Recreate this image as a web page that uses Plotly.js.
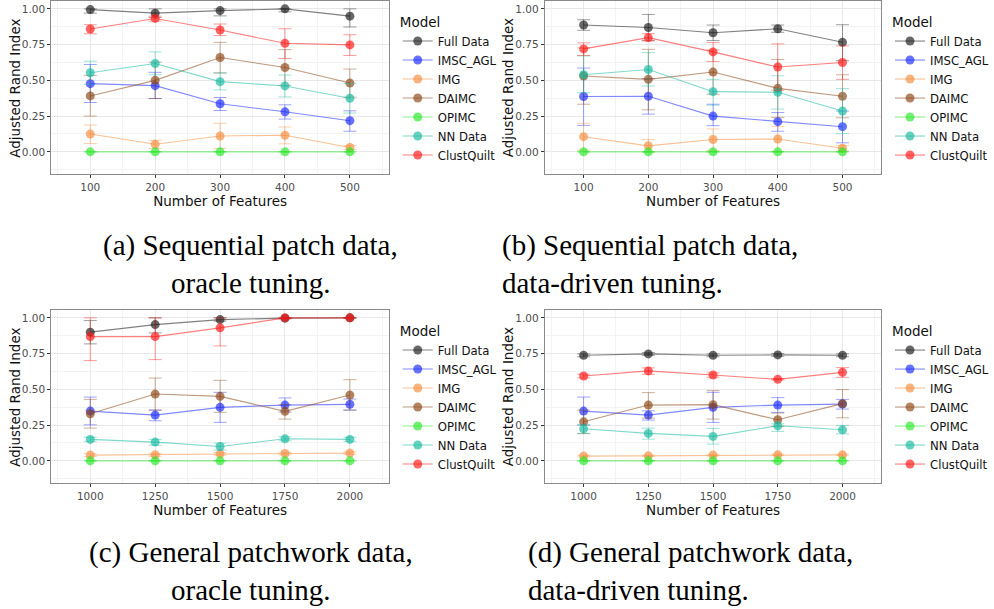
<!DOCTYPE html>
<html><head><meta charset="utf-8">
<script src="https://cdn.plot.ly/plotly-3.0.1.min.js"></script>
<style>html,body{margin:0;padding:0;background:#fff}#chart{width:994px;height:609px}</style>
</head><body><div id="chart"></div>
<script>
// ---------- data ----------
const models = ['Full Data', 'IMSC_AGL', 'IMG', 'DAIMC', 'OPIMC', 'NN Data', 'ClustQuilt'];
const featuresSeq = [100, 200, 300, 400, 500];
const featuresGen = [1000, 1250, 1500, 1750, 2000];
const xTickTextSeq = ['100', '200', '300', '400', '500'];
const xTickTextGen = ['1000', '1250', '1500', '1750', '2000'];
const yTickVals = [0, 0.25, 0.5, 0.75, 1];
const yTickText = ['0.00', '0.25', '0.50', '0.75', '1.00'];
const xTitle = 'Number of Features';
const yTitle = 'Adjusted Rand Index';
const legendTitle = 'Model';
const captions = [
  ['(a) Sequential patch data,', 'oracle tuning.'],
  ['(b) Sequential patch data,', 'data-driven tuning.'],
  ['(c) General patchwork data,', 'oracle tuning.'],
  ['(d) General patchwork data,', 'data-driven tuning.']
];

// (a) sequential patch, oracle tuning  (rows follow `models`)
const aMean = [[0.995,0.970,0.988,1.000,0.949],[0.477,0.463,0.336,0.280,0.218],[0.125,0.053,0.111,0.116,0.030],[0.391,0.500,0.660,0.590,0.481],[0,0,0,0,0],[0.553,0.618,0.491,0.461,0.375],[0.859,0.933,0.852,0.759,0.748]];
const aLow  = [[0.970,0.940,0.951,0.979,0.873],[0.345,0.373,0.289,0.229,0.144],[0.058,0.023,0.023,0.056,0.016],[0.250,0.373,0.551,0.465,0.382],[0,0,0,0,0],[0.472,0.539,0.433,0.384,0.271],[0.826,0.914,0.813,0.653,0.674]];
const aHigh = [[1.000,1.000,1.000,1.000,1.000],[0.611,0.556,0.380,0.329,0.287],[0.188,0.081,0.200,0.174,0.044],[0.535,0.627,0.766,0.715,0.579],[0,0,0,0,0],[0.634,0.699,0.553,0.537,0.479],[0.889,0.949,0.894,0.861,0.819]];

// (b) sequential patch, data-driven tuning
const bMean = [[0.887,0.870,0.833,0.861,0.766],[0.387,0.389,0.250,0.211,0.176],[0.106,0.042,0.086,0.090,0.025],[0.530,0.507,0.558,0.444,0.389],[0,0,0,0,0],[0.539,0.576,0.421,0.417,0.285],[0.720,0.799,0.699,0.593,0.625]];
const bLow  = [[0.850,0.780,0.778,0.836,0.637],[0.185,0.264,0.183,0.144,0.063],[0.012,0.000,0.010,0.002,0.006],[0.333,0.294,0.403,0.241,0.238],[0,0,0,0,0],[0.414,0.461,0.326,0.299,0.127],[0.674,0.775,0.632,0.431,0.507]];
const bHigh = [[0.924,0.961,0.887,0.887,0.889],[0.586,0.512,0.333,0.275,0.285],[0.200,0.086,0.160,0.178,0.044],[0.727,0.717,0.713,0.646,0.539],[0,0,0,0,0],[0.671,0.694,0.507,0.532,0.442],[0.762,0.826,0.764,0.755,0.741]];

// (c) general patchwork, oracle tuning
const cMean = [[0.900,0.953,0.988,0.998,1.000],[0.348,0.320,0.374,0.390,0.395],[0.040,0.042,0.049,0.051,0.054],[0.329,0.467,0.451,0.346,0.460],[0,0,0,0,0],[0.150,0.131,0.100,0.154,0.150],[0.869,0.869,0.930,1.000,1.000]];
const cLow  = [[0.818,0.895,0.977,0.993,1.000],[0.252,0.280,0.269,0.341,0.355],[0.030,0.032,0.040,0.042,0.045],[0.229,0.355,0.339,0.292,0.355],[0,0,0,0,0],[0.136,0.110,0.075,0.140,0.136],[0.701,0.708,0.804,0.995,0.998]];
const cHigh = [[0.981,1.000,1.000,1.000,1.000],[0.446,0.355,0.479,0.440,0.432],[0.050,0.052,0.058,0.060,0.063],[0.430,0.579,0.563,0.393,0.568],[0,0,0,0,0],[0.164,0.150,0.124,0.168,0.164],[1.000,1.000,1.000,1.000,1.000]];

// (d) general patchwork, data-driven tuning
const dMean = [[0.738,0.748,0.738,0.741,0.738],[0.348,0.320,0.374,0.390,0.397],[0.033,0.035,0.040,0.042,0.042],[0.273,0.390,0.393,0.287,0.400],[0,0,0,0,0],[0.224,0.192,0.171,0.245,0.217],[0.593,0.629,0.600,0.570,0.619]];
const dLow  = [[0.728,0.738,0.728,0.731,0.728],[0.250,0.285,0.269,0.339,0.362],[0.027,0.029,0.034,0.036,0.036],[0.190,0.299,0.292,0.241,0.301],[0,0,0,0,0],[0.192,0.152,0.117,0.206,0.189],[0.580,0.605,0.585,0.565,0.584]];
const dHigh = [[0.748,0.758,0.748,0.751,0.748],[0.446,0.350,0.479,0.442,0.430],[0.039,0.041,0.046,0.048,0.048],[0.355,0.477,0.491,0.334,0.498],[0,0,0,0,0],[0.252,0.229,0.227,0.259,0.248],[0.606,0.650,0.615,0.575,0.652]];

// ---------- styles ----------
const baseRGB = ['25,25,25', '25,40,255', '244,140,60', '139,69,19', '40,230,40', '20,185,160', '255,20,20'];
const FONT = 'DejaVu Sans, sans-serif';
const SERIF = 'Liberation Serif, Times New Roman, serif';

const panels = [
  {x: featuresSeq, mean: aMean, low: aLow, high: aHigh, xa: 'x',  ya: 'y',  lg: 'legend'},
  {x: featuresSeq, mean: bMean, low: bLow, high: bHigh, xa: 'x2', ya: 'y2', lg: 'legend2'},
  {x: featuresGen, mean: cMean, low: cLow, high: cHigh, xa: 'x3', ya: 'y3', lg: 'legend3'},
  {x: featuresGen, mean: dMean, low: dLow, high: dHigh, xa: 'x4', ya: 'y4', lg: 'legend4'}
];

const traces = [];
panels.forEach(p => {
  models.forEach((m, i) => {
    const mean = p.mean[i];
    traces.push({
      type: 'scatter', mode: 'lines+markers', name: m,
      x: p.x, y: mean, xaxis: p.xa, yaxis: p.ya, legend: p.lg,
      line: {color: 'rgba(' + baseRGB[i] + ',0.55)', width: 1.1},
      marker: {color: 'rgba(' + baseRGB[i] + ',0.66)', size: 9, line: {width: 0}},
      error_y: {
        type: 'data', symmetric: false,
        array: p.high[i].map((v, k) => v - mean[k]),
        arrayminus: mean.map((v, k) => v - p.low[i][k]),
        color: 'rgba(' + baseRGB[i] + ',0.42)', thickness: 1, width: 6.5
      },
      hoverinfo: 'x+y+name'
    });
  });
});

const W = 994, H = 609;
const px = v => v / W, py = v => 1 - v / H;
const axisTitleFont = {family: FONT, size: 13.5, color: '#111'};

function xaxisDef(dom, anchor, vals, text, range, minorDt) {
  return {
    domain: dom, anchor: anchor, range: range,
    tickmode: 'array', tickvals: vals, ticktext: text,
    ticks: 'outside', ticklen: 3, tickwidth: 1, tickcolor: '#333333',
    tickfont: {family: FONT, size: 10.5, color: '#4d4d4d'},
    showgrid: true, gridcolor: '#e8e8e8', gridwidth: 1,
    minor: {dtick: minorDt, tick0: vals[0], showgrid: true, gridcolor: '#f3f3f3', gridwidth: 0.6, ticks: ''},
    showline: true, mirror: true, linecolor: '#8a8a8a', linewidth: 1,
    zeroline: false,
    title: {text: xTitle, font: axisTitleFont, standoff: 0}
  };
}
function yaxisDef(dom, anchor) {
  return {
    domain: dom, anchor: anchor, range: [-0.155, 1.055],
    tickmode: 'array', tickvals: yTickVals, ticktext: yTickText,
    ticks: 'outside', ticklen: 3, tickwidth: 1, tickcolor: '#333333',
    tickfont: {family: FONT, size: 10.5, color: '#4d4d4d'},
    showgrid: true, gridcolor: '#e8e8e8', gridwidth: 1,
    minor: {dtick: 0.125, tick0: 0, showgrid: true, gridcolor: '#f3f3f3', gridwidth: 0.6, ticks: ''},
    showline: true, mirror: true, linecolor: '#8a8a8a', linewidth: 1,
    zeroline: false
  };
}

const colL = [px(52), px(394)], colR = [px(552), px(893)];
const rowT = [py(174), py(1)], rowB = [py(483), py(310)];

function legendDef(x, ytop) {
  return {
    x: px(x), xanchor: 'left', y: py(ytop), yanchor: 'top',
    bgcolor: 'rgba(0,0,0,0)', borderwidth: 0,
    font: {family: FONT, size: 11.7, color: '#111'},
    title: {text: legendTitle, font: {family: FONT, size: 13.5, color: '#111'}},
    itemclick: false, itemdoubleclick: false
  };
}

const annotations = [];
// y-axis titles, placed where ggplot puts them
[[15, 88], [515, 88], [15, 397], [515, 397]].forEach(([x, y]) => {
  annotations.push({xref: 'paper', yref: 'paper', x: px(x), y: py(y), xanchor: 'center', yanchor: 'middle',
    showarrow: false, textangle: -90, text: yTitle, font: axisTitleFont});
});

const capPos = [
  {x: 254, y1: 245, y2: 283, anchor: 'center'},
  {x: 507, y1: 245, y2: 283, anchor: 'left'},
  {x: 254, y1: 552, y2: 590, anchor: 'center'},
  {x: 533, y1: 552, y2: 590, anchor: 'left'}
];
captions.forEach((c, i) => {
  const p = capPos[i];
  [c[0], c[1]].forEach((t, j) => {
    annotations.push({
      xref: 'paper', yref: 'paper', x: px(p.x), y: py(j === 0 ? p.y1 : p.y2),
      xanchor: p.anchor, yanchor: 'middle', showarrow: false, align: p.anchor,
      text: t, font: {family: SERIF, size: 29, color: '#000'}
    });
  });
});

const layout = {
  width: W, height: H, margin: {l: 0, r: 0, t: 0, b: 0},
  paper_bgcolor: '#fff', plot_bgcolor: '#fff',
  font: {family: FONT},
  showlegend: true,
  xaxis:  xaxisDef(colL, 'y',  featuresSeq, xTickTextSeq, [40, 560], 50),
  xaxis2: xaxisDef(colR, 'y2', featuresSeq, xTickTextSeq, [40, 560], 50),
  xaxis3: xaxisDef(colL, 'y3', featuresGen, xTickTextGen, [850, 2150], 125),
  xaxis4: xaxisDef(colR, 'y4', featuresGen, xTickTextGen, [850, 2150], 125),
  yaxis:  yaxisDef(rowT, 'x'),
  yaxis2: yaxisDef(rowT, 'x2'),
  yaxis3: yaxisDef(rowB, 'x3'),
  yaxis4: yaxisDef(rowB, 'x4'),
  legend:  legendDef(403, 9),
  legend2: legendDef(902, 9),
  legend3: legendDef(403, 318),
  legend4: legendDef(902, 318),
  annotations: annotations
};

Plotly.newPlot('chart', traces, layout, {displayModeBar: false, responsive: false});
</script>
</body></html>
